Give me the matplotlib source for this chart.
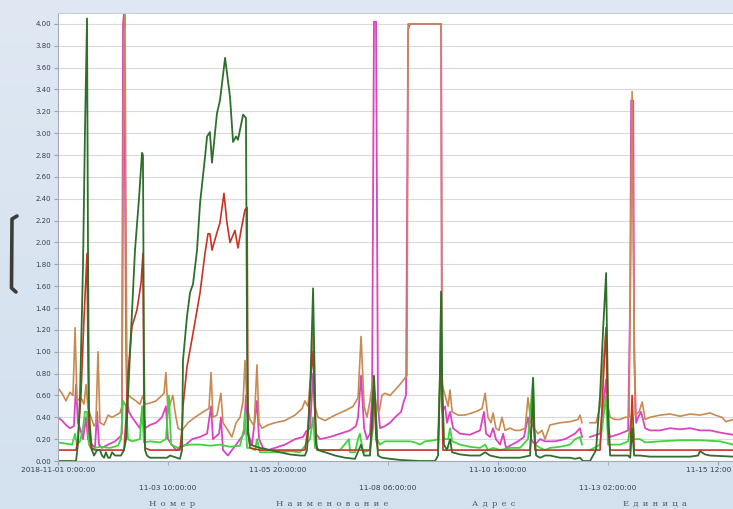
import numpy as np
import matplotlib
matplotlib.use("Agg")
import matplotlib.pyplot as plt
from matplotlib.lines import Line2D
from matplotlib.transforms import ScaledTranslation

nan = np.nan

# hours since 2018-11-01 00:00, value
dark_green = [
    (0, .00), (9.5, .00), (10.5, .15), (11.6, .60), (13.2, 1.80), (14.2, 3.00), (15.3, 4.05), (15.8, 2.00),
    (16.3, .50), (16.9, .30), (17.9, .10), (19.0, .05), (20.6, .10), (22.1, .10), (23.2, .05), (24.3, .03),
    (25.3, .08), (26.4, .03), (27.4, .03), (28.5, .08), (30.1, .05), (31.6, .05), (33.2, .05), (34.8, .10),
    (35.9, .20), (38.0, 1.00), (40.6, 1.93), (42.7, 2.40), (44.3, 2.82), (44.8, 2.80), (45.3, 1.00), (45.9, .10),
    (46.9, .05), (48.5, .03), (57.5, .03), (59.1, .05), (64.3, .02), (65.4, .10), (65.9, .92), (68.0, 1.32),
    (69.6, 1.54), (71.2, 1.62), (73.3, 1.93), (74.9, 2.36), (77.5, 2.78), (78.6, 2.97), (80.1, 3.01), (81.2, 2.73),
    (83.8, 3.18), (85.4, 3.30), (88.1, 3.69), (90.7, 3.33), (92.3, 2.92), (93.9, 2.97), (94.9, 2.94), (97.6, 3.17),
    (99.1, 3.14), (99.7, 1.00), (100.2, .25), (101.2, .15), (106.5, .12), (111.8, .10), (117.1, .08), (122.3, .06),
    (127.6, .05), (130.2, .05), (131.3, .10), (132.9, .60), (134.5, 1.58), (135.5, .60), (136.0, .15), (137.1, .10),
    (140.8, .08), (146.1, .05), (151.3, .03), (156.6, .02), (159.8, .15), (161.4, .05), (164.5, .05), (165.6, .40),
    (166.6, .78), (167.7, .40), (168.7, .05), (170.8, .03), (175.1, .02), (180.3, .01), (190.9, .00), (198.8, .00),
    (200.4, .05), (201.4, .80), (202.0, 1.55), (202.5, .80), (203.5, .15), (205.1, .10), (206.7, .20), (207.8, .08),
    (212.0, .06), (217.2, .05), (222.5, .05), (225.2, .08), (227.8, .05), (233.1, .03), (243.6, .03), (248.9, .05),
    (249.9, .40), (250.5, .76), (251.0, .30), (252.1, .05), (254.2, .03), (256.8, .05), (259.4, .05), (264.7, .03),
    (270.0, .03), (272.6, .02), (275.2, .03), (276.8, .00), (280.5, .00), (283.7, .10), (285.8, .60), (287.4, 1.20),
    (289.0, 1.72), (290.0, .50), (291.1, .05), (296.4, .05), (300.6, .05), (301.7, .03), (302.7, .30), (303.8, .05),
    (306.9, .05), (312.1, .04), (328.0, .04), (333.3, .04), (337.5, .05), (338.5, .09), (341.2, .06), (343.8, .05),
    (355.9, .04),
]

red = [
    (0, .10), (9.5, .10), (10.5, .20), (12.1, .60), (13.7, 1.30), (15.3, 1.90), (15.8, 1.00), (16.3, .30),
    (17.4, .12), (19.5, .10), (32.7, .10), (34.8, .10), (35.9, .40), (36.9, .80), (39.0, 1.23), (41.6, 1.38),
    (43.8, 1.63), (44.8, 1.90), (45.3, .50), (45.9, .12), (48.5, .10), (64.3, .10), (65.4, .30), (65.9, .50),
    (68.0, .86), (71.2, 1.17), (74.9, 1.54), (77.5, 1.90), (79.1, 2.08), (80.1, 2.08), (81.2, 1.93), (83.8, 2.09),
    (85.4, 2.18), (87.5, 2.45), (89.1, 2.18), (90.7, 2.00), (93.3, 2.11), (94.9, 1.95), (96.5, 2.11), (98.6, 2.30),
    (99.7, 2.32), (100.2, .30), (101.2, .12), (106.5, .10), (130.2, .10), (131.8, .30), (133.4, .80), (134.5, 1.00),
    (135.5, .40), (136.6, .10), (164.5, .10), (165.6, .30), (166.6, .70), (167.7, .20), (168.7, .10), (200.4, .10),
    (201.4, .70), (202.0, 1.00), (203.0, .10), (248.9, .10), (249.9, .40), (250.5, .65), (251.5, .10), (285.8, .10),
    (287.4, .70), (289.0, 1.22), (290.0, .30), (291.1, .10), (301.7, .10), (302.7, .60), (303.8, .10), (355.9, .10),
]

orange = [
    (0, .67), (2.1, .62), (4.2, .55), (6.3, .63), (7.9, .60), (9.0, 1.22), (10.0, .55), (12.1, .58),
    (13.7, .52), (14.8, .70), (15.8, .48), (17.4, .40), (19.0, .32), (20.0, .35), (21.1, 1.00), (22.1, .35),
    (24.3, .33), (26.4, .42), (28.5, .40), (30.6, .42), (32.7, .44), (33.7, .50), (34.8, 3.90), (35.3, 4.12),
    (35.9, 2.00), (36.4, .62), (38.5, .58), (41.1, .55), (43.2, .52), (44.8, .60), (45.9, .52), (48.5, .53),
    (51.7, .55), (54.8, .60), (55.9, .62), (56.9, .81), (58.0, .45), (59.6, .55), (60.6, .60), (61.7, .45),
    (63.3, .30), (65.4, .28), (68.5, .35), (72.2, .40), (77.5, .46), (79.6, .48), (80.7, .81), (81.7, .40),
    (83.8, .42), (85.9, .62), (87.0, .35), (89.6, .28), (91.7, .22), (93.9, .35), (96.0, .40), (97.6, .55),
    (98.6, .92), (99.7, .50), (101.2, .38), (103.4, .32), (104.9, .88), (106.0, .35), (107.6, .30), (110.7, .33),
    (114.4, .35), (119.7, .37), (125.0, .42), (128.7, .48), (130.2, .55), (131.8, .50), (133.4, .80), (134.5, 1.22),
    (135.5, .50), (137.1, .40), (140.8, .37), (146.1, .42), (151.3, .46), (155.6, .50), (158.2, .58), (159.8, 1.14),
    (161.4, .50), (162.9, .40), (164.5, .55), (166.1, .75), (167.7, .50), (169.3, .45), (170.8, .60), (172.4, .62),
    (175.1, .60), (177.7, .65), (180.3, .70), (183.0, .76), (184.0, .78), (184.6, 4.00), (202.0, 4.00), (202.5, .70),
    (204.1, .60), (205.7, .50), (206.7, .65), (207.8, .45), (210.9, .42), (214.6, .42), (218.3, .44), (221.5, .46),
    (223.6, .48), (225.2, .62), (226.7, .40), (228.3, .35), (229.4, .44), (230.9, .30), (232.5, .28), (234.1, .40),
    (235.7, .28), (238.3, .30), (241.0, .28), (243.6, .28), (246.3, .30), (247.8, .58), (249.4, .35), (251.0, .30),
    (253.1, .25), (255.2, .28), (256.8, .20), (259.4, .33), (264.7, .35), (270.0, .36), (274.2, .38), (275.2, .42),
    (276.3, .35), (276.8, nan), (280.5, .35), (283.7, .35), (285.8, .50), (287.4, .90), (289.0, 1.22), (290.0, .50),
    (291.1, .40), (293.7, .38), (296.4, .38), (299.0, .40), (301.1, .40), (302.2, 2.50), (302.7, 3.38), (303.3, 2.00),
    (304.3, .42), (306.4, .45), (308.0, .54), (309.6, .38), (312.1, .40), (317.4, .42), (322.7, .43), (328.0, .41),
    (333.3, .43), (338.5, .42), (343.8, .44), (346.5, .42), (350.1, .40), (352.2, .36), (355.9, .38),
]

magenta = [
    (0, .40), (2.1, .37), (4.2, .33), (6.3, .30), (8.4, .32), (9.5, .70), (10.5, .35), (11.6, .30),
    (13.2, .20), (14.8, .40), (15.8, .20), (17.9, .15), (19.5, .12), (20.6, .45), (21.6, .15), (23.2, .12),
    (26.4, .15), (30.1, .18), (32.7, .22), (33.7, .25), (34.3, 4.00), (34.8, 4.10), (35.9, 1.00), (36.4, .55),
    (37.4, .45), (39.0, .40), (41.1, .35), (43.2, .30), (44.8, .50), (45.9, .30), (48.5, .33), (51.7, .35),
    (54.8, .40), (56.9, .50), (58.0, .20), (60.1, .15), (62.2, .10), (64.3, .12), (67.5, .15), (70.7, .20),
    (74.9, .22), (78.6, .25), (80.7, .50), (81.7, .20), (84.9, .25), (85.9, .40), (87.0, .10), (89.6, .05),
    (91.7, .10), (93.9, .15), (96.0, .20), (98.1, .25), (99.1, .60), (100.2, .25), (102.3, .15), (104.9, .55),
    (106.0, .20), (108.1, .12), (110.7, .10), (114.4, .12), (119.7, .15), (125.0, .20), (129.2, .22), (130.8, .27),
    (132.9, .30), (134.5, .80), (136.0, .25), (138.1, .20), (143.4, .22), (148.7, .25), (154.0, .28), (157.1, .32),
    (158.2, .40), (159.8, .78), (161.4, .30), (162.9, .20), (164.5, .25), (165.6, .60), (166.6, 4.02), (167.7, 4.02),
    (168.7, .50), (169.8, .30), (172.4, .32), (175.1, .35), (177.7, .40), (180.9, .45), (182.4, .55), (183.5, .60),
    (184.6, 3.95), (185.6, 4.00), (202.0, 4.00), (202.5, .45), (204.1, .50), (205.1, .35), (206.7, .45), (208.3, .30),
    (212.0, .25), (217.2, .24), (222.5, .28), (224.6, .45), (225.7, .25), (227.8, .22), (229.4, .30), (230.9, .20),
    (233.1, .15), (234.7, .25), (236.2, .12), (239.4, .15), (242.6, .18), (245.7, .22), (247.8, .40), (249.4, .20),
    (251.5, .15), (254.2, .20), (256.8, .18), (262.1, .18), (267.3, .20), (272.6, .25), (275.2, .30), (276.3, .22),
    (276.8, nan), (280.5, .22), (285.8, .25), (287.4, .50), (289.0, .75), (290.0, .30), (291.1, .22), (296.4, .25),
    (300.6, .28), (301.7, 1.50), (302.2, 3.30), (303.3, 3.30), (303.8, 1.00), (304.8, .35), (305.9, .40), (307.4, .45),
    (309.6, .30), (312.1, .28), (317.4, .28), (322.7, .30), (328.0, .29), (333.3, .30), (338.5, .28), (343.8, .28),
    (349.1, .26), (355.9, .24),
]

green = [
    (0, .17), (3.7, .16), (7.4, .15), (9.0, .25), (10.0, .15), (11.6, .18), (13.2, .30), (14.2, .45),
    (15.3, .45), (16.3, .15), (17.9, .10), (19.5, .12), (22.1, .13), (27.4, .12), (31.6, .14), (33.2, .20),
    (34.3, .55), (35.9, .50), (36.9, .20), (39.0, .18), (43.2, .20), (44.3, .50), (45.3, .17), (48.5, .18),
    (53.8, .17), (56.9, .20), (58.5, .60), (59.6, .15), (63.3, .12), (65.4, .14), (69.6, .15), (74.9, .15),
    (80.1, .14), (85.4, .15), (90.7, .13), (96.0, .14), (98.1, .30), (98.6, .45), (99.7, .12), (101.2, .12),
    (103.9, .10), (104.9, .20), (106.5, .08), (111.8, .08), (117.1, .08), (122.3, .09), (127.6, .08), (132.9, .20),
    (134.5, .40), (135.5, .12), (138.1, .10), (148.7, .10), (153.4, .20), (154.0, .08), (156.6, .08), (158.2, .20),
    (159.2, .25), (160.8, .08), (164.5, .10), (166.1, .30), (167.2, .60), (168.2, .20), (169.8, .15), (172.4, .18),
    (180.3, .18), (185.6, .18), (188.2, .17), (190.9, .15), (193.5, .18), (198.8, .19), (200.4, .20), (201.4, .80),
    (202.0, 1.55), (202.5, .60), (203.5, .20), (205.7, .20), (206.7, .30), (207.8, .18), (212.0, .15), (217.2, .13),
    (222.5, .12), (225.2, .15), (226.7, .10), (229.4, .12), (233.1, .10), (238.3, .12), (243.6, .12), (247.8, .20),
    (250.5, .76), (251.5, .15), (254.2, .12), (256.8, .10), (259.4, .12), (264.7, .13), (270.0, .15), (272.6, .20),
    (275.2, .22), (276.3, .15), (276.8, nan), (280.5, .10), (285.8, .15), (289.0, .60), (290.0, .15), (296.4, .15),
    (300.6, .18), (302.7, .45), (303.8, .20), (306.9, .20), (309.6, .17), (317.4, .18), (328.0, .19), (338.5, .19),
    (349.1, .18), (355.9, .15),
]

tick_hours = [0, 58, 116, 174, 232, 290, 348]
tick_labels = ["2018-11-01 0:00:00", "11-03 10:00:00", "11-05 20:00:00", "11-08 06:00:00",
               "11-10 16:00:00", "11-13 02:00:00", "11-15 12:00"]
y_ticks = [round(0.2 * i, 2) for i in range(21)]
column_headers = ["Номер", "Наименование", "Адрес", "Единица"]

W, H = 733, 509
fig = plt.figure(figsize=(W / 100, H / 100), dpi=100)
fig.patch.set_facecolor("#d7e3f0")

# soft panel gradient behind everything
bg = fig.add_axes([0, 0, 1, 1], zorder=-10)
grad = np.linspace(0, 1, 256).reshape(-1, 1)
bg.imshow(grad, aspect="auto", cmap=matplotlib.colors.LinearSegmentedColormap.from_list(
    "panel", ["#dfe8f3", "#d3e0ee"]), extent=[0, 1, 0, 1])
bg.axis("off")

ax = fig.add_axes([58 / W, 48 / H, (W - 58) / W, 448 / H])
ax.set_facecolor("white")
ax.set_xlim(0, 355.9)
ax.set_ylim(0, 4.10)

ax.set_yticks(y_ticks)
ax.set_yticklabels([f"{v:.2f}" for v in y_ticks])
ax.yaxis.grid(True, color="#d9d9d9", lw=0.8)
ax.set_axisbelow(True)

ax.set_xticks(tick_hours[::2])
ax.set_xticklabels(tick_labels[::2])
ax.set_xticks(tick_hours[1::2], minor=True)
ax.set_xticklabels(tick_labels[1::2], minor=True)
ax.tick_params(axis="x", which="major", length=3, pad=1, labelsize=5.3, colors="#9aa4ae", labelcolor="#3a3f46")
ax.tick_params(axis="x", which="minor", length=3, pad=14, labelsize=5.3, colors="#9aa4ae", labelcolor="#3a3f46")
ax.tick_params(axis="y", length=3, pad=2, labelsize=5.0, colors="#9aa4ae", labelcolor="#3a3f46")

# the last date label sits against the right border
last = ax.get_xticklabels()[-1]
last.set_transform(last.get_transform() + ScaledTranslation(-9 / 100, 0, fig.dpi_scale_trans))

ax.spines["right"].set_visible(False)
ax.spines["left"].set_color("#a3acb6")
ax.spines["bottom"].set_color("#a3acb6")
ax.spines["top"].set_color("#c4cfdb")

series = [
    (magenta, "#dc43c0", 1.3),
    (orange, "#c98a52", 1.2),
    (green, "#3fd43f", 1.3),
    (red, "#c83424", 1.2),
    (dark_green, "#2f6f2c", 1.3),
]
for data, color, lw in series:
    t = [p[0] for p in data]
    v = [p[1] for p in data]
    ax.plot(t, v, color=color, lw=lw, solid_joinstyle="round")

# splitter handle on the left edge
fig.add_artist(Line2D([17 / W, 12 / W, 11.5 / W, 16 / W],
                      [1 - 216 / H, 1 - 219 / H, 1 - 288 / H, 1 - 292 / H],
                      color="#3c3c3c", lw=2.6, solid_capstyle="round", solid_joinstyle="round"))

# table header row peeking in below the chart
for label, cx in zip(column_headers, [172, 332, 494, 655]):
    fig.text(cx / W, 1 - 504 / H, "\u2002".join(label),
             ha="center", va="center", fontsize=6, color="#4c5866", family="DejaVu Serif")

fig.savefig("out.png", dpi=100, facecolor=fig.get_facecolor())
